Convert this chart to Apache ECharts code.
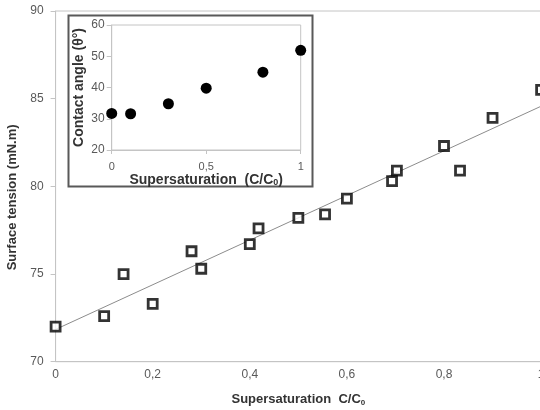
<!DOCTYPE html>
<html>
<head>
<meta charset="utf-8">
<script src="https://cdn.jsdelivr.net/npm/echarts@6/dist/echarts.min.js"></script>
<style>
  html, body { margin: 0; padding: 0; background: #fff; overflow: hidden; }
  #chart { width: 540px; height: 410px; }
</style>
</head>
<body>
<div id="chart"></div>
<script>
// main plot: surface tension vs supersaturation
var ratio = [0, 0.1, 0.14, 0.2, 0.28, 0.3, 0.4, 0.418, 0.5, 0.555, 0.6, 0.693, 0.703, 0.8, 0.833, 0.9, 1.0];
var tension = [72.0, 72.6, 75.0, 73.3, 76.3, 75.3, 76.7, 77.6, 78.2, 78.4, 79.3, 80.3, 80.9, 82.3, 80.9, 83.9, 85.5];

// inset: contact angle
var insetRatio = [0, 0.1, 0.3, 0.5, 0.8, 1.0];
var angle = [31.7, 31.6, 34.8, 39.8, 44.9, 51.9];

var font = 'Liberation Sans, Arial, sans-serif';
var labelColor = '#595959';

// linear trend line (least squares over the main data)
function fit(xs, ys) {
  var n = xs.length, sx = 0, sy = 0, sxx = 0, sxy = 0;
  for (var i = 0; i < n; i++) {
    sx += xs[i]; sy += ys[i]; sxx += xs[i] * xs[i]; sxy += xs[i] * ys[i];
  }
  var b = (n * sxy - sx * sy) / (n * sxx - sx * sx);
  var a = (sy - b * sx) / n;
  return [[0, a], [1, a + b]];
}
var trend = fit(ratio, tension);

var mainPts = ratio.map(function (x, i) { return [x, tension[i]]; });
var insetPts = insetRatio.map(function (x, i) { return [x, angle[i]]; });

function comma(v) {
  return String(+v.toFixed(1)).replace('.', ',');
}

var chart = echarts.init(document.getElementById('chart'));
chart.setOption({
  animation: false,
  textStyle: { fontFamily: font },
  grid: [
    { left: 55.6, top: 11, width: 485.5, height: 350.7, show: true, borderColor: '#c4c4c4', borderWidth: 1, z: 0, outerBoundsMode: 'none', containLabel: false },
    { left: 111.7, top: 25, width: 189, height: 125, show: true, borderColor: '#c4c4c4', borderWidth: 1, z: 5, outerBoundsMode: 'none', containLabel: false }
  ],
  graphic: [
    {
      type: 'rect', z: 3,
      shape: { x: 68.5, y: 15.5, width: 244, height: 171 },
      style: { fill: '#fff', stroke: '#595959', lineWidth: 2 }
    }
  ],
  xAxis: [
    {
      gridIndex: 0, type: 'value', min: 0, max: 1, interval: 0.2,
      axisLine: { lineStyle: { color: '#c4c4c4' } },
      axisTick: { show: false },
      splitLine: { show: false },
      axisLabel: { color: labelColor, fontSize: 12, margin: 7, formatter: comma },
      name: 'Supersaturation  C/C{sub|0}',
      nameLocation: 'middle', nameGap: 31,
      nameTextStyle: {
        color: '#333', fontSize: 13, fontWeight: 'bold', fontFamily: font,
        rich: { sub: { fontSize: 8, fontWeight: 'bold', color: '#333', fontFamily: font, verticalAlign: 'bottom', padding: [6, 0, 0, 0] } }
      }
    },
    {
      gridIndex: 1, type: 'value', min: 0, max: 1, interval: 0.5, z: 6,
      axisLine: { lineStyle: { color: '#c4c4c4' } },
      axisTick: { show: true, length: 4, lineStyle: { color: '#c4c4c4' } },
      splitLine: { show: false },
      axisLabel: { color: labelColor, fontSize: 11, margin: 11, formatter: comma },
      name: 'Supersaturation  (C/C{sub|0})',
      nameLocation: 'middle', nameGap: 21,
      nameTextStyle: {
        color: '#333', fontSize: 14, fontWeight: 'bold', fontFamily: font,
        rich: { sub: { fontSize: 9, fontWeight: 'bold', color: '#333', fontFamily: font, verticalAlign: 'bottom', padding: [6, 0, 0, 0] } }
      }
    }
  ],
  yAxis: [
    {
      gridIndex: 0, type: 'value', min: 70, max: 90, interval: 5,
      axisLine: { show: true, lineStyle: { color: '#c4c4c4' } },
      axisTick: { show: true, length: 5, lineStyle: { color: '#c4c4c4' } },
      splitLine: { show: false },
      axisLabel: { color: labelColor, fontSize: 12, margin: 12 },
      name: 'Surface tension (mN.m)',
      nameLocation: 'middle', nameGap: 31,
      nameTextStyle: { color: '#333', fontSize: 13, fontWeight: 'bold', padding: [0, 22, 0, 0] }
    },
    {
      gridIndex: 1, type: 'value', min: 20, max: 60, interval: 10, z: 6,
      axisLine: { show: true, lineStyle: { color: '#c4c4c4' } },
      axisTick: { show: true, length: 5, lineStyle: { color: '#c4c4c4' } },
      splitLine: { show: false },
      axisLabel: { color: labelColor, fontSize: 12, margin: 7 },
      name: 'Contact angle (\u03b8\u00b0)',
      nameLocation: 'middle', nameGap: 26,
      nameTextStyle: { color: '#333', fontSize: 14, fontWeight: 'bold' }
    }
  ],
  series: [
    {
      type: 'line', xAxisIndex: 0, yAxisIndex: 0, z: 1,
      data: trend, showSymbol: false, silent: true,
      lineStyle: { color: '#8c8c8c', width: 1 }
    },
    {
      type: 'scatter', xAxisIndex: 0, yAxisIndex: 0, z: 2,
      data: mainPts, symbol: 'rect', symbolSize: 9,
      itemStyle: { color: '#fff', borderColor: '#000', borderWidth: 2.8 }
    },
    {
      type: 'scatter', xAxisIndex: 1, yAxisIndex: 1, z: 7,
      data: insetPts, symbol: 'circle', symbolSize: 11,
      itemStyle: { color: '#000', opacity: 1 }
    }
  ]
});
</script>
</body>
</html>
